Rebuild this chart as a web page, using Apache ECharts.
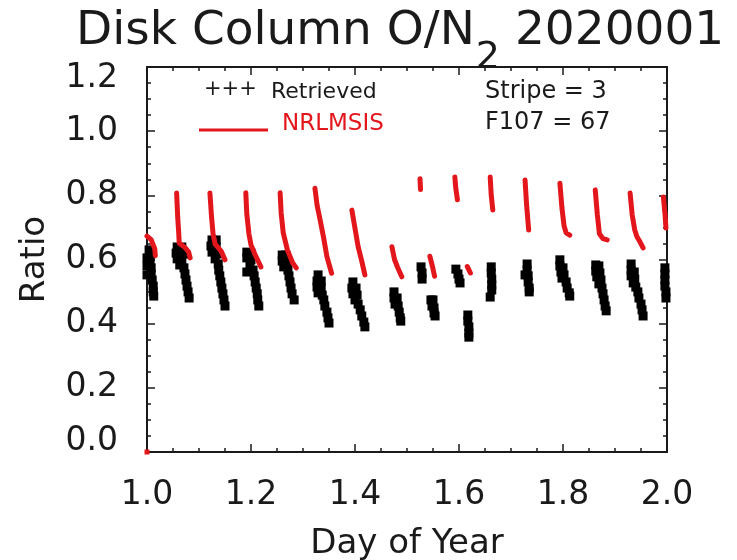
<!DOCTYPE html>
<html>
<head>
<meta charset="utf-8">
<script src="https://cdn.jsdelivr.net/npm/echarts@6/dist/echarts.min.js"></script>
<style>
  html, body { margin: 0; padding: 0; background: #ffffff; }
  #chart { width: 737px; height: 560px; }
</style>
</head>
<body>
<div id="chart"></div>
<script>
// Disk column O/N2 ratio for day 2020001, stripe 3: retrieved values (black)
// and the NRLMSIS model (red), one short streak per orbit pass.

const FONT = '"DejaVu Sans", sans-serif';
const INK = '#1a1a1a';
const RED = '#e3161c';

const titleMain = 'Disk Column O/N';
const titleSub = '2';
const titleDate = ' 2020001';
const xName = 'Day of Year';
const yName = 'Ratio';
const stripeText = 'Stripe = 3';
const f107Text = 'F107 = 67';

// Retrieved ratio, [day, ratio], grouped by pass
const retrieved = [
  [1.004,0.630],[1.006,0.611],[1.006,0.592],[1.008,0.574],[1.008,0.555],[1.010,0.536],
  [1.012,0.517],[1.012,0.499],[1.013,0.486],[1.000,0.605],[1.000,0.580],[1.000,0.552],

  [1.058,0.639],[1.067,0.639],[1.056,0.620],[1.065,0.620],[1.073,0.617],[1.058,0.602],
  [1.067,0.599],[1.063,0.583],[1.071,0.574],[1.073,0.555],[1.075,0.536],[1.077,0.517],
  [1.079,0.499],[1.081,0.480],

  [1.125,0.661],[1.133,0.661],[1.123,0.642],[1.133,0.639],[1.125,0.623],[1.135,0.617],
  [1.131,0.602],[1.137,0.586],[1.138,0.567],[1.140,0.549],[1.142,0.530],[1.144,0.511],
  [1.146,0.493],[1.148,0.474],[1.150,0.455],

  [1.192,0.623],[1.200,0.620],[1.192,0.605],[1.200,0.599],[1.198,0.583],[1.204,0.567],
  [1.206,0.549],[1.208,0.530],[1.210,0.511],[1.212,0.493],[1.213,0.474],[1.215,0.455],
  [1.192,0.561],

  [1.260,0.614],[1.267,0.614],[1.260,0.595],[1.269,0.592],[1.263,0.577],[1.271,0.567],
  [1.273,0.549],[1.275,0.530],[1.277,0.511],[1.279,0.493],[1.283,0.474],

  [1.329,0.552],[1.327,0.533],[1.335,0.533],[1.327,0.514],[1.335,0.511],[1.329,0.496],
  [1.337,0.489],[1.340,0.474],[1.342,0.455],[1.346,0.436],[1.348,0.418],[1.350,0.402],

  [1.396,0.530],[1.394,0.511],[1.402,0.511],[1.396,0.493],[1.404,0.489],[1.400,0.474],
  [1.406,0.461],[1.410,0.443],[1.413,0.424],[1.417,0.405],[1.419,0.390],

  [1.475,0.499],[1.475,0.480],[1.481,0.480],[1.477,0.461],[1.483,0.455],[1.485,0.436],
  [1.487,0.418],[1.488,0.408],

  [1.527,0.577],[1.529,0.558],[1.529,0.539],
  [1.546,0.474],[1.550,0.474],[1.548,0.455],[1.552,0.449],[1.552,0.433],[1.554,0.424],

  [1.594,0.570],[1.598,0.555],[1.600,0.539],[1.602,0.527],
  [1.617,0.427],[1.617,0.408],[1.619,0.390],[1.619,0.371],[1.619,0.358],

  [1.662,0.577],[1.662,0.558],[1.663,0.539],[1.663,0.521],[1.663,0.505],[1.660,0.483],

  [1.731,0.586],[1.731,0.567],[1.733,0.549],[1.733,0.530],[1.735,0.511],[1.735,0.499],
  [1.727,0.552],

  [1.794,0.599],[1.794,0.580],[1.800,0.574],[1.796,0.561],[1.802,0.552],[1.798,0.542],
  [1.806,0.530],[1.808,0.511],[1.812,0.496],[1.813,0.486],

  [1.863,0.583],[1.869,0.580],[1.863,0.564],[1.871,0.558],[1.865,0.546],[1.873,0.536],
  [1.869,0.524],[1.875,0.511],[1.877,0.493],[1.879,0.474],[1.881,0.455],[1.883,0.440],

  [1.931,0.586],[1.931,0.567],[1.937,0.561],[1.931,0.549],[1.938,0.539],[1.935,0.527],
  [1.940,0.514],[1.944,0.499],[1.946,0.480],[1.950,0.461],[1.952,0.443],[1.954,0.424],

  [1.996,0.574],[1.996,0.555],[1.996,0.536],[1.996,0.517],[1.998,0.499],[1.998,0.480]
];

// NRLMSIS ratio along each pass, [day, ratio]
const nrlmsisPasses = [
  [[1.000,0.673],[1.008,0.662],[1.015,0.633],[1.016,0.612]],
  [[1.057,0.807],[1.059,0.733],[1.061,0.683],[1.062,0.651],[1.072,0.639],[1.080,0.624],[1.083,0.605]],
  [[1.121,0.807],[1.124,0.735],[1.127,0.680],[1.131,0.648],[1.143,0.625],[1.150,0.599]],
  [[1.190,0.808],[1.192,0.740],[1.196,0.680],[1.200,0.645],[1.208,0.615],[1.219,0.577]],
  [[1.256,0.808],[1.258,0.745],[1.262,0.683],[1.270,0.630],[1.280,0.590],[1.287,0.574]],
  [[1.323,0.822],[1.327,0.770],[1.333,0.723],[1.340,0.665],[1.346,0.609],[1.355,0.557]],
  [[1.394,0.754],[1.400,0.697],[1.406,0.640],[1.413,0.595],[1.419,0.552]],
  [[1.471,0.640],[1.476,0.600],[1.482,0.575],[1.490,0.546]],
  [[1.525,0.852],[1.526,0.818]],
  [[1.544,0.610],[1.549,0.578],[1.553,0.548]],
  [[1.592,0.857],[1.594,0.820],[1.597,0.786]],
  [[1.616,0.578],[1.622,0.558]],
  [[1.660,0.857],[1.662,0.800],[1.665,0.754]],
  [[1.727,0.848],[1.730,0.770],[1.734,0.692]],
  [[1.794,0.838],[1.798,0.760],[1.802,0.705],[1.806,0.683],[1.813,0.676]],
  [[1.862,0.817],[1.866,0.740],[1.870,0.680],[1.877,0.665],[1.885,0.661]],
  [[1.929,0.807],[1.933,0.740],[1.938,0.692],[1.942,0.672],[1.948,0.655],[1.954,0.636]],
  [[1.993,0.795],[1.996,0.745],[1.998,0.698]]
];

// model fill value sitting at the origin
const nrlmsisFill = [[1.000, 0.000]];

// gaps between passes so the line breaks
const nrlmsisLine = [];
nrlmsisPasses.forEach(function (pass) {
  pass.forEach(function (p) { nrlmsisLine.push(p); });
  nrlmsisLine.push(['-', '-']);
});

function valueAxis(opts) {
  const base = {
    type: 'value',
    axisLine: { show: true, onZero: false, lineStyle: { color: INK, width: 2 } },
    axisTick: { show: true, inside: true, length: 8, lineStyle: { color: INK, width: 1.5 } },
    minorTick: { show: true, splitNumber: 4, length: 4, lineStyle: { color: INK, width: 1.5 } },
    splitLine: { show: false },
    minorSplitLine: { show: false }
  };
  return Object.assign(base, opts);
}

const chart = echarts.init(document.getElementById('chart'), null, { renderer: 'canvas' });

chart.setOption({
  animation: false,
  backgroundColor: '#ffffff',
  title: {
    text: '{m|' + titleMain + '}{s|' + titleSub + '}{m|' + titleDate + '}',
    left: 76,
    top: 8,
    padding: 0,
    textStyle: {
      fontWeight: 'normal',
      rich: {
        m: { fontFamily: FONT, fontWeight: 'normal', fontSize: 47, color: INK, lineHeight: 52, verticalAlign: 'top' },
        s: { fontFamily: FONT, fontWeight: 'normal', fontSize: 38, color: INK, lineHeight: 44, verticalAlign: 'top', padding: [31, 0, 0, 1] }
      }
    }
  },
  grid: {
    left: 147, top: 67, width: 520, height: 385,
    containLabel: false, outerBoundsMode: 'none'
  },
  xAxis: [
    valueAxis({
      position: 'bottom', min: 1, max: 2, interval: 0.2,
      axisLabel: { show: true, margin: 27, fontFamily: FONT, fontSize: 33, color: INK,
        formatter: function (v) { return v.toFixed(1); } },
      name: xName, nameLocation: 'middle', nameGap: 75,
      nameTextStyle: { fontFamily: FONT, fontSize: 34, color: INK }
    }),
    valueAxis({ position: 'top', min: 1, max: 2, interval: 0.2, axisLabel: { show: false } })
  ],
  yAxis: [
    valueAxis({
      position: 'left', min: 0, max: 1.2, interval: 0.2,
      axisLabel: { show: true, margin: 29, fontFamily: FONT, fontSize: 33, color: INK,
        formatter: function (v) {
          const s = v.toFixed(1);
          if (v <= 0) return '{lo|' + s + '}';
          if (v >= 1.2) return '{hi|' + s + '}';
          return s;
        },
        rich: {
          lo: { fontFamily: FONT, fontSize: 33, color: INK, padding: [0, 0, 22, 0] },
          hi: { fontFamily: FONT, fontSize: 33, color: INK, padding: [22, 0, 0, 0] }
        } },
      name: yName, nameLocation: 'middle', nameGap: 95,
      nameTextStyle: { fontFamily: FONT, fontSize: 34, color: INK }
    }),
    valueAxis({ position: 'right', min: 0, max: 1.2, interval: 0.2, axisLabel: { show: false } })
  ],
  series: [
    {
      name: 'Retrieved', type: 'scatter', xAxisIndex: 0, yAxisIndex: 0,
      data: retrieved, symbol: 'rect', symbolSize: 9,
      itemStyle: { color: '#000000', opacity: 1 }, z: 2
    },
    {
      name: 'NRLMSIS', type: 'line', xAxisIndex: 0, yAxisIndex: 0,
      data: nrlmsisLine, showSymbol: false, connectNulls: false,
      lineStyle: { color: RED, width: 5, cap: 'round', join: 'round' }, z: 3
    },
    {
      name: 'NRLMSIS fill', type: 'scatter', xAxisIndex: 0, yAxisIndex: 0,
      data: nrlmsisFill, symbol: 'rect', symbolSize: 5,
      itemStyle: { color: RED, opacity: 1 }, z: 3
    }
  ],
  graphic: [
    { type: 'text', left: 204, top: 79, style: { text: '+++', font: '21px ' + FONT, fill: INK } },
    { type: 'text', left: 271, top: 81, style: { text: 'Retrieved', font: '22px ' + FONT, fill: INK } },
    { type: 'line', shape: { x1: 199, y1: 130, x2: 268, y2: 130 }, style: { stroke: RED, lineWidth: 3 } },
    { type: 'text', left: 282, top: 113, style: { text: 'NRLMSIS', font: '23px ' + FONT, fill: RED } },
    { type: 'text', left: 485, top: 80, style: { text: stripeText, font: '24px ' + FONT, fill: INK } },
    { type: 'text', left: 485, top: 111, style: { text: f107Text, font: '24px ' + FONT, fill: INK } }
  ]
});
</script>
</body>
</html>
